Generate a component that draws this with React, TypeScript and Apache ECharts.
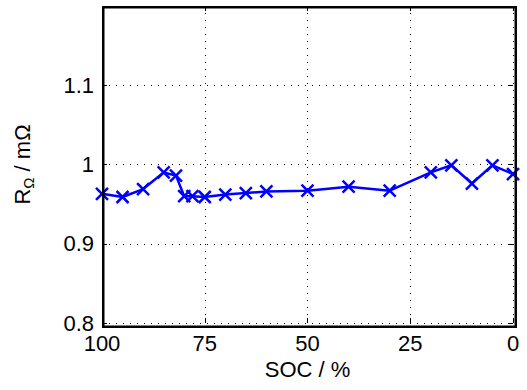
import React, { useEffect, useRef } from "react";
import * as echarts from "echarts";

const soc = [100, 95, 90, 85, 82, 80, 78, 75, 70, 65, 60, 50, 40, 30, 20, 15, 10, 5, 0];
const resistance = [0.963, 0.959, 0.969, 0.99, 0.986, 0.96, 0.96, 0.959, 0.962, 0.964, 0.966, 0.967, 0.972, 0.967, 0.99, 0.999, 0.976, 0.999, 0.988];
const xTicks = [0, 25, 50, 75, 100];
const yTicks = [0.8, 0.9, 1.0, 1.1, 1.2];

const FONT = "Liberation Sans";

export default function App() {
  const ref = useRef<HTMLDivElement>(null);
  useEffect(() => {
    if (!ref.current) return;
    const chart = echarts.init(ref.current, undefined, { renderer: "svg" });
    const gridLine = { show: true, lineStyle: { color: "#000", width: 1, type: [1, 6] as any } };
    const axisLine = { show: false, onZero: false };
    const tick = { show: true, inside: true, length: 5, lineStyle: { color: "#000", width: 1 } };
    chart.setOption({
      animation: false,
      backgroundColor: "#fff",
      textStyle: { fontFamily: FONT },
      grid: {
        show: false,
        left: 102,
        right: 14,
        top: 6,
        bottom: 67,
        containLabel: false,
      },
      graphic: [
        {
          type: "rect",
          left: 100.75,
          top: 4.75,
          shape: { width: 412.5, height: 319.5 },
          style: { fill: "none", stroke: "#000", lineWidth: 2.5 },
          z: 100,
          silent: true,
        },
      ],
      xAxis: [
        {
          type: "value",
          inverse: true,
          min: xTicks[0],
          max: xTicks[xTicks.length - 1],
          interval: 25,
          axisLine,
          axisTick: tick,
          splitLine: gridLine,
          axisLabel: { color: "#000", fontSize: 22, margin: 9, fontFamily: FONT },
          name: "SOC / %",
          nameLocation: "middle",
          nameGap: 35,
          nameTextStyle: { color: "#000", fontSize: 22, fontFamily: FONT, verticalAlign: "top" },
        },
        {
          type: "value",
          position: "top",
          inverse: true,
          min: xTicks[0],
          max: xTicks[xTicks.length - 1],
          interval: 25,
          axisLine,
          axisTick: tick,
          splitLine: { show: false },
          axisLabel: { show: false },
        },
      ],
      yAxis: [
        {
          type: "value",
          min: yTicks[0],
          max: yTicks[yTicks.length - 1],
          interval: 0.1,
          axisLine,
          axisTick: tick,
          splitLine: gridLine,
          axisLabel: {
            color: "#000",
            fontSize: 22,
            margin: 8,
            showMaxLabel: false,
            fontFamily: FONT,
            formatter: (v: number) => String(Math.round(v * 10) / 10),
          },
          name: "{r|R}{s|Ω}{r| / mΩ}",
          nameLocation: "middle",
          nameGap: 66,
          nameTextStyle: {
            color: "#000",
            fontFamily: FONT,
            rich: {
              r: { fontSize: 22, fontFamily: FONT, color: "#000", lineHeight: 28, verticalAlign: "middle" },
              s: { fontSize: 15, fontFamily: FONT, color: "#000", verticalAlign: "bottom", padding: [9, 0, 0, 0] },
            },
          },
        },
        {
          type: "value",
          position: "right",
          min: yTicks[0],
          max: yTicks[yTicks.length - 1],
          interval: 0.1,
          axisLine,
          axisTick: tick,
          splitLine: { show: false },
          axisLabel: { show: false },
        },
      ],
      series: [
        {
          type: "line",
          data: soc.map((s, i) => [s, resistance[i]]),
          symbol: "path://M0,0L10,10M10,0L0,10",
          symbolSize: 12,
          showSymbol: true,
          lineStyle: { color: "#0000ff", width: 2.5 },
          itemStyle: { color: "#0000ff", borderColor: "#0000ff", borderWidth: 2.5 },
          z: 5,
        },
      ],
    });
    return () => chart.dispose();
  }, []);
  return <div ref={ref} style={{ width: 527, height: 390, position: "absolute", left: 0, top: 0 }} />;
}
